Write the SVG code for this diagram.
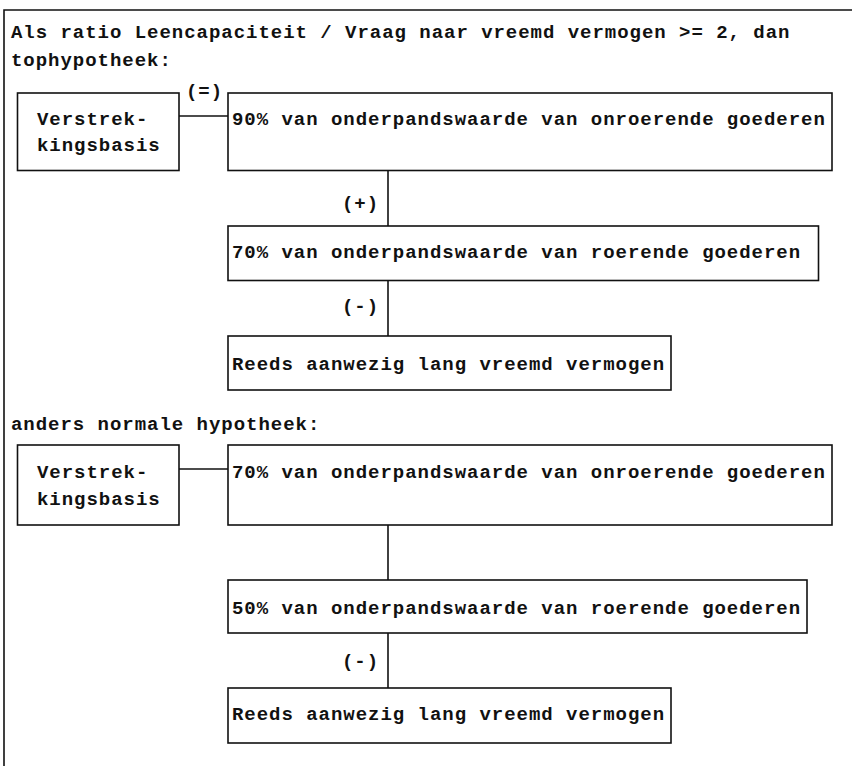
<svg xmlns="http://www.w3.org/2000/svg" width="852" height="766" viewBox="0 0 852 766">
<style>
  text { font-family: "Liberation Mono", "Courier New", monospace; font-weight: bold; font-size: 19px; letter-spacing: 0.97px; fill: #111; }
  .box { fill: none; stroke: #111; stroke-width: 1.6; }
  .line { fill: none; stroke: #111; stroke-width: 1.6; }
</style>
<rect width="852" height="766" fill="#fff"/>
<g id="frame">
  <path class="line" d="M4 766 V10 H852"/>
  <text x="11" y="38">Als ratio Leencapaciteit / Vraag naar vreemd vermogen &gt;= 2, dan</text>
  <text x="11" y="66">tophypotheek:</text>
  <text x="11" y="430">anders normale hypotheek:</text>
</g>
<g id="connectors">
  <path class="line" d="M179 116 H228"/>
  <text x="186" y="97">(=)</text>
  <path class="line" d="M388 170.5 V226"/>
  <text x="342" y="209">(+)</text>
  <path class="line" d="M388 280.5 V336"/>
  <text x="342" y="312">(-)</text>
  <path class="line" d="M179 469 H228"/>
  <path class="line" d="M388 525 V580"/>
  <path class="line" d="M388 633 V688"/>
  <text x="342" y="667">(-)</text>
</g>
<g id="n1">
  <rect class="box" x="17.5" y="93" width="161.5" height="77.5"/>
  <text x="37" y="125">Verstrek-</text>
  <text x="37" y="151">kingsbasis</text>
</g>
<g id="n2">
  <rect class="box" x="228" y="93" width="604" height="77.5"/>
  <text x="232" y="125">90% van onderpandswaarde van onroerende goederen</text>
</g>
<g id="n3">
  <rect class="box" x="228" y="226" width="590.5" height="54.5"/>
  <text x="232" y="258">70% van onderpandswaarde van roerende goederen</text>
</g>
<g id="n4">
  <rect class="box" x="228" y="336" width="443" height="54"/>
  <text x="232" y="370">Reeds aanwezig lang vreemd vermogen</text>
</g>
<g id="n5">
  <rect class="box" x="17.5" y="445" width="161.5" height="80"/>
  <text x="37" y="478">Verstrek-</text>
  <text x="37" y="505">kingsbasis</text>
</g>
<g id="n6">
  <rect class="box" x="228" y="445" width="604" height="80"/>
  <text x="232" y="478">70% van onderpandswaarde van onroerende goederen</text>
</g>
<g id="n7">
  <rect class="box" x="228" y="580" width="579" height="53"/>
  <text x="232" y="614">50% van onderpandswaarde van roerende goederen</text>
</g>
<g id="n8">
  <rect class="box" x="228" y="688" width="443" height="55"/>
  <text x="232" y="720">Reeds aanwezig lang vreemd vermogen</text>
</g>
</svg>
